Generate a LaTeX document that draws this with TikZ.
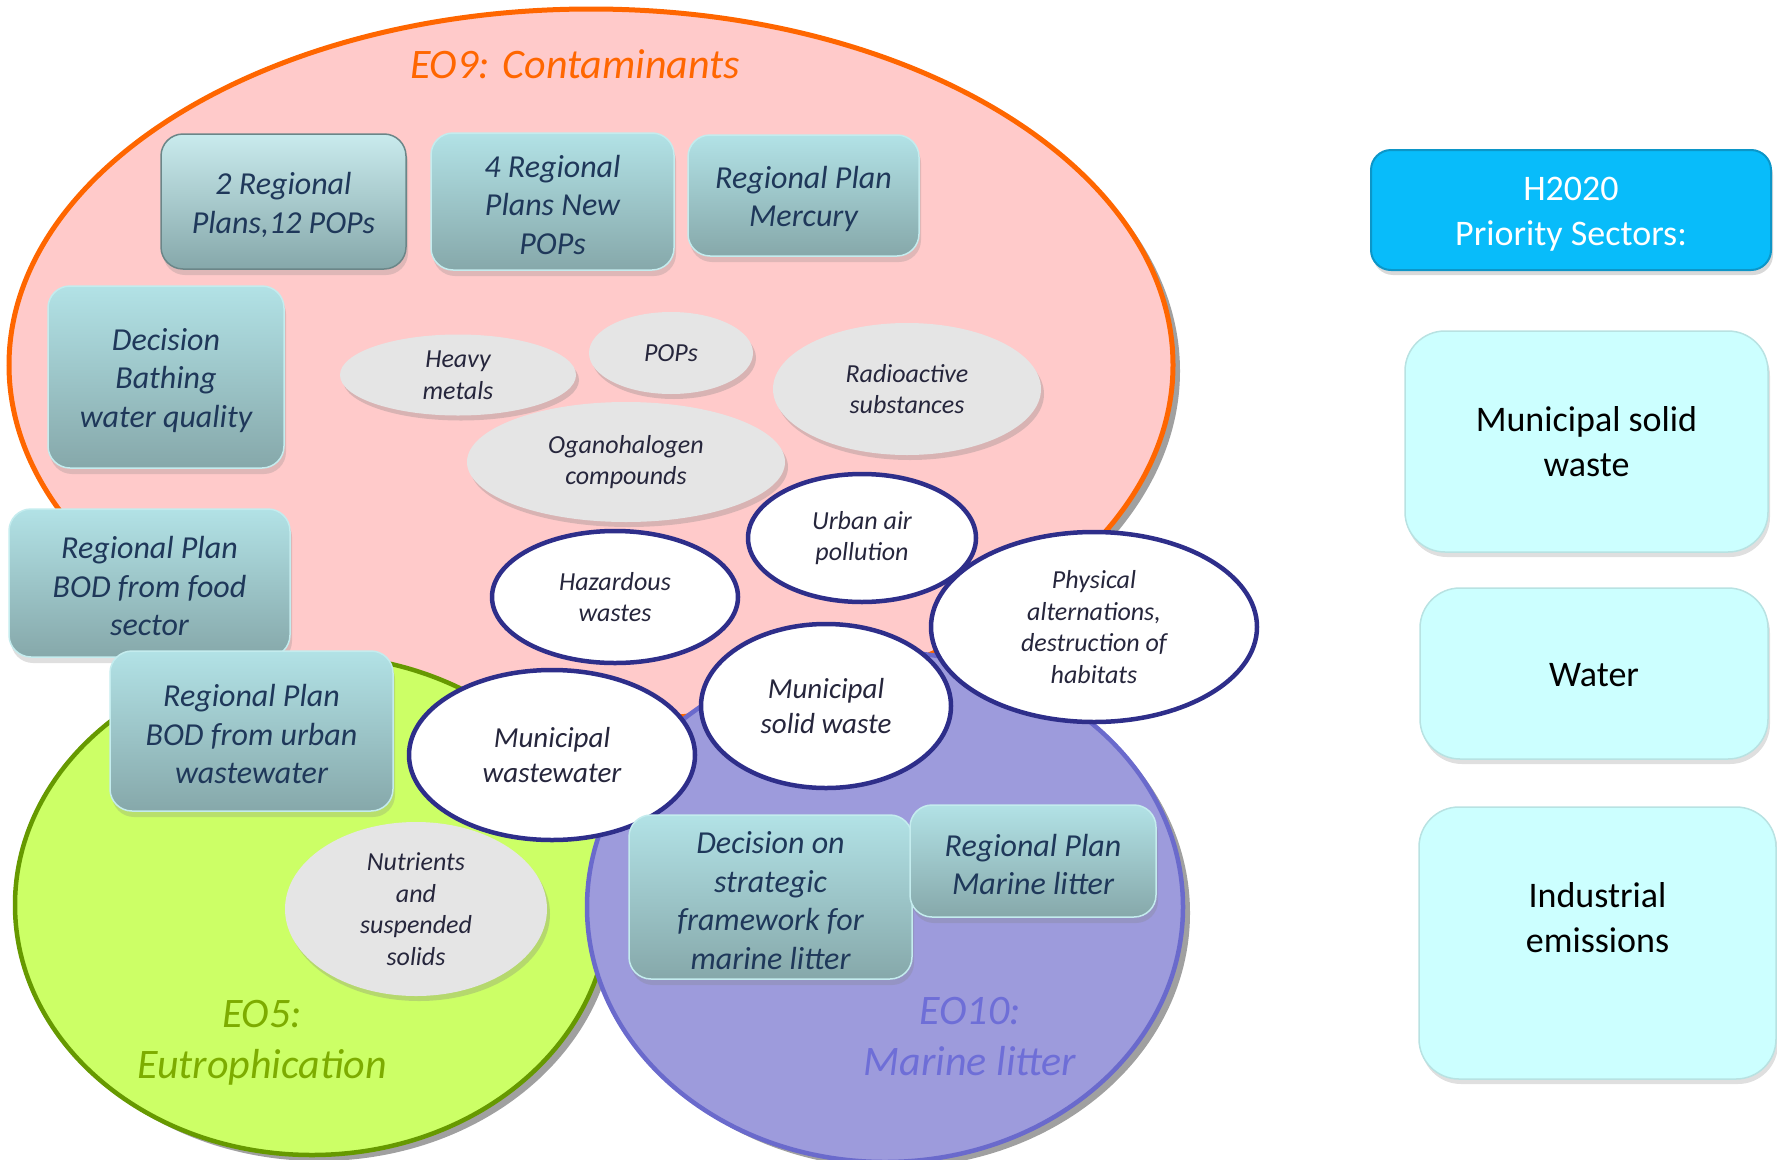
\documentclass[tikz,border=0pt]{standalone}
\usepackage{fontspec}
\setmainfont{Carlito}
\usetikzlibrary{shapes.geometric,shadows}
\definecolor{eonine}{RGB}{255,202,202}
\definecolor{eonineb}{RGB}{255,102,0}
\definecolor{eofive}{RGB}{204,255,102}
\definecolor{eofiveb}{RGB}{102,153,0}
\definecolor{eoten}{RGB}{157,155,220}
\definecolor{eotenb}{RGB}{106,106,204}
\definecolor{eofivet}{RGB}{125,172,0}
\definecolor{eotent}{RGB}{110,110,215}
\definecolor{tealtop}{RGB}{178,226,230}
\definecolor{tealbot}{RGB}{134,168,170}
\definecolor{tealedge}{RGB}{196,236,238}
\definecolor{tealtext}{RGB}{31,56,90}
\definecolor{grayell}{RGB}{229,229,229}
\definecolor{navyring}{RGB}{46,46,138}
\definecolor{elltext}{RGB}{38,38,60}
\definecolor{hblue}{RGB}{8,188,250}
\definecolor{hblueb}{RGB}{12,150,200}
\definecolor{sectorfill}{RGB}{204,255,255}
\definecolor{sectoredge}{RGB}{184,226,226}
\definecolor{bigshadow}{RGB}{160,160,160}
\newcommand\tealfont{\fontsize{32}{38.5}\selectfont\itshape}
\newcommand\smellfont{\fontsize{26}{31.7}\selectfont\itshape}
\newcommand\bigellfont{\fontsize{29}{34.5}\selectfont\itshape}
\newcommand\titlefont{\fontsize{42}{51}\selectfont\itshape}
\newcommand\sectorfont{\fontsize{36}{45}\selectfont}
\newcommand\tup{\rule{0pt}{29pt}}
\newcommand\hup{\rule{0pt}{32pt}}
\begin{document}
\begin{tikzpicture}[x=1pt,y=-1pt,
  bigell/.style={ellipse, inner sep=0pt, line width=4.5pt,
    drop shadow={shadow xshift=7pt, shadow yshift=-6pt, fill=bigshadow, opacity=1}},
  tealbox/.style={rectangle, rounded corners=22pt, draw=tealedge, line width=1.5pt,
    top color=tealtop, bottom color=tealbot, align=center, text=tealtext,
    font=\tealfont, inner sep=0pt,
    drop shadow={shadow xshift=2pt, shadow yshift=-6pt, opacity=0.25}},
  grayellipse/.style={ellipse, inner sep=0pt, fill=grayell, align=center,
    text=elltext, font=\smellfont,
    drop shadow={shadow xshift=3pt, shadow yshift=-5pt, opacity=0.3}},
  ringellipse/.style={ellipse, inner sep=0pt, fill=white, draw=navyring,
    line width=4.5pt, align=center, text=elltext, font=\smellfont},
  sectorbox/.style={rectangle, rounded corners=40pt, fill=sectorfill,
    draw=sectoredge, line width=1.5pt, align=center, font=\sectorfont,
    inner sep=0pt,
    drop shadow={shadow xshift=2pt, shadow yshift=-5pt, opacity=0.25}},
  titletext/.style={font=\titlefont, align=center, inner sep=0pt}
]
\useasboundingbox (0,0) rectangle (1777,1159);

% big objective ellipses
\node[bigell, fill=eonine, draw=eonineb, line width=5pt,
  minimum width=1164pt, minimum height=712pt] (eo9) at (591,365) {};
\node[bigell, fill=eofive, draw=eofiveb,
  minimum width=594pt, minimum height=500pt] (eo5) at (312,905) {};
\node[bigell, fill=eoten, draw=eotenb,
  minimum width=596pt, minimum height=510pt] (eo10) at (885,907) {};

% titles
\node[titletext, text=eonineb] (t9) at (575,64) {EO9: Contaminants};
\node[titletext, text=eofivet] (t5) at (262,1043) {EO5:\\Eutrophication};
\node[titletext, text=eotent] (t10) at (970,1037) {EO10:\\Marine litter};

% gray topic ellipses
\node[grayellipse, minimum width=236pt, minimum height=81pt] (heavy) at (458,375) {Heavy\\metals};
\node[grayellipse, minimum width=164pt, minimum height=82pt] (pops) at (671,353) {POPs};
\node[grayellipse, minimum width=268pt, minimum height=132pt] (radio) at (907,389) {Radioactive\\substances};
\node[grayellipse, minimum width=318pt, minimum height=120pt] (organo) at (626,462) {Oganohalogen\\compounds};
\node[grayellipse, minimum width=262pt, minimum height=174pt] (nutri) at (416,909) {Nutrients\\and\\suspended\\solids};

% ringed sector ellipses
\node[ringellipse, minimum width=228pt, minimum height=128pt] (urban) at (862,538) {Urban air\\pollution};
\node[ringellipse, minimum width=246pt, minimum height=132pt] (hazard) at (615,597) {Hazardous\\wastes};
\node[ringellipse, minimum width=326pt, minimum height=190pt] (phys) at (1094,627) {Physical\\alternations,\\destruction of\\habitats};
\node[ringellipse, minimum width=250pt, minimum height=164pt, font=\bigellfont] (msw) at (826,706) {Municipal\\solid waste};
\node[ringellipse, minimum width=286pt, minimum height=170pt, font=\bigellfont] (mww) at (552,755) {Municipal\\wastewater};

% teal plan boxes
\node[tealbox, draw=tealbot!80!black, top color=tealtop!70!white,
  minimum width=245pt, minimum height=135pt] (plan12) at (283.5,201.5) {\tup 2 Regional\\Plans,12 POPs};
\node[tealbox, minimum width=243pt, minimum height=137pt] (plannew) at (552.5,201.5) {\tup 4 Regional\\Plans New\\POPs};
\node[tealbox, minimum width=231pt, minimum height=121pt] (planhg) at (803.5,195.5) {\tup Regional Plan\\Mercury};
\node[tealbox, minimum width=236pt, minimum height=182pt] (bathing) at (166,377) {\tup Decision\\Bathing\\water quality};
\node[tealbox, minimum width=281pt, minimum height=148pt] (bodfood) at (149.5,583) {\tup Regional Plan\\BOD from food\\sector};
\node[tealbox, minimum width=283pt, minimum height=160pt] (bodurban) at (251.5,731) {\tup Regional Plan\\BOD from urban\\wastewater};
\node[tealbox, minimum width=283pt, minimum height=164pt] (decml) at (770.5,897) {\tup Decision on\\strategic\\framework for\\marine litter};
\node[tealbox, minimum width=246pt, minimum height=112pt] (planml) at (1033,861) {\tup Regional Plan\\Marine litter};

% H2020 priority sectors
\node[rectangle, rounded corners=20pt, fill=hblue, draw=hblueb, line width=2pt,
  minimum width=400pt, minimum height=120pt, align=center, text=white,
  font=\sectorfont, inner sep=0pt,
  drop shadow={shadow xshift=2pt, shadow yshift=-5pt, opacity=0.3}]
  (h2020) at (1571,210) {\hup H2020\\Priority Sectors:};
\node[sectorbox, minimum width=363pt, minimum height=221pt] (smsw) at (1586.5,441.5) {Municipal solid\\waste};
\node[sectorbox, minimum width=348pt, minimum height=171pt,
  execute at begin node={\rule{0pt}{27pt}}] (swater) at (1594,673.5) {Water};
\node[sectorbox, minimum width=357pt, minimum height=272pt] (sind) at (1597.5,943) {};
\node[align=center, font=\sectorfont, inner sep=0pt] (sindtext) at ([yshift=25pt]sind.center) {Industrial\\emissions};
\end{tikzpicture}
\end{document}
